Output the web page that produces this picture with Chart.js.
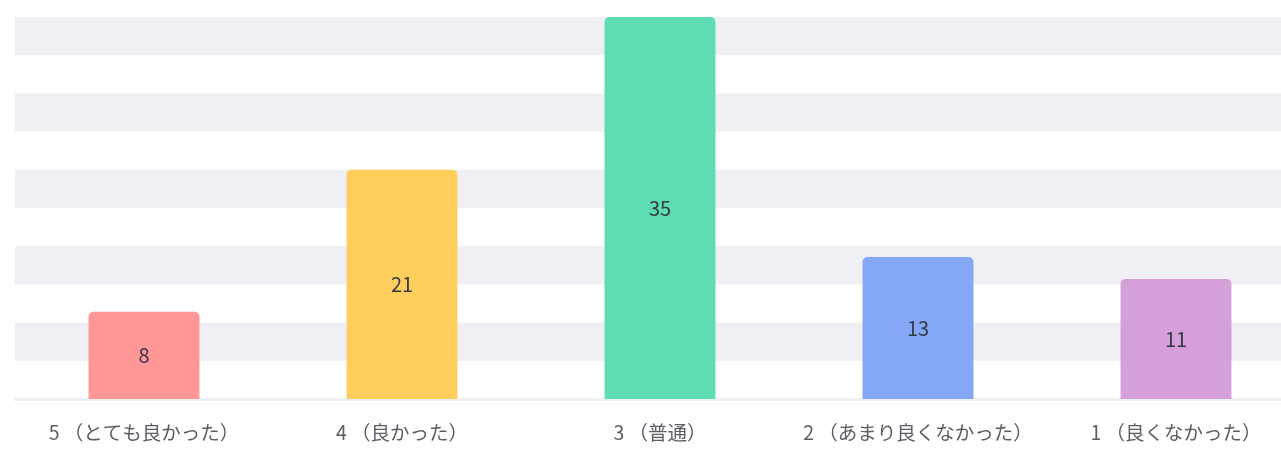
<!DOCTYPE html>
<html>
<head>
<meta charset="utf-8">
<script src="https://cdn.jsdelivr.net/npm/chart.js@4/dist/chart.umd.min.js"></script>
<style>
	html, body { margin: 0; padding: 0; background: #fff; overflow: hidden; }
	#wrap { width: 1320px; height: 453px; }
</style>
</head>
<body>
<div id="wrap"><canvas id="myChart" width="1320" height="453"></canvas></div>
<script>
var _labels = ['5 （とても良かった）', '4 （良かった）', '3 （普通）', '2 （あまり良くなかった）', '1 （良くなかった）'];
var _values = [8, 21, 35, 13, 11];
var _colors = ['#ff9797', '#ffce5c', '#5edcb4', '#84a8f7', '#d59fd9'];
var _yMax = 35;
var _yStep = 3.5;

// 背景の縞模様
var bandPlugin = {
	id: 'bands',
	beforeDatasetsDraw: function(chart) {
		var ctx = chart.ctx;
		var area = chart.chartArea;
		var y = chart.scales.y;
		ctx.save();
		ctx.fillStyle = '#eff0f4';
		var idx = 0;
		for (var v = _yMax; v > 0.001; v -= _yStep) {
			if (idx % 2 == 0) {
				var top = y.getPixelForValue(v);
				var bottom = y.getPixelForValue(v - _yStep);
				ctx.fillRect(area.left, top, area.right - area.left, bottom - top);
			}
			idx++;
		}
		ctx.restore();
	}
};

// 棒の中の数値
var valuePlugin = {
	id: 'values',
	afterDatasetsDraw: function(chart) {
		var ctx = chart.ctx;
		var meta = chart.getDatasetMeta(0);
		ctx.save();
		ctx.fillStyle = '#333a45';
		ctx.font = '20px "Noto Sans CJK JP", "Noto Sans", sans-serif';
		ctx.textAlign = 'center';
		ctx.textBaseline = 'middle';
		meta.data.forEach(function(bar, i) {
			var mid = (bar.y + bar.base) / 2;
			ctx.fillText(String(_values[i]), bar.x, mid);
		});
		ctx.restore();
	}
};

var _config = {
	type: 'bar',
	data: {
		labels: _labels,
		datasets: [{
			data: _values,
			backgroundColor: _colors,
			borderRadius: { topLeft: 5, topRight: 5, bottomLeft: 0, bottomRight: 0 },
			borderSkipped: 'start',
			barPercentage: 0.43,
			categoryPercentage: 1.0
		}]
	},
	options: {
		responsive: false,
		animation: false,
		layout: {
			padding: { left: 15, right: 15, top: 17, bottom: 0 }
		},
		plugins: {
			legend: { display: false },
			tooltip: { enabled: false }
		},
		scales: {
			x: {
				grid: { display: false },
				border: { display: true, color: '#eeeff3', width: 3 },
				afterFit: function(axis) {
					axis.height = 54;
				},
				ticks: {
					color: '#5a5e64',
					padding: 14,
					maxRotation: 0,
					font: { size: 19.5, family: '"Noto Sans CJK JP", "Noto Sans", sans-serif' }
				}
			},
			y: {
				display: false,
				min: 0,
				max: _yMax,
				ticks: { stepSize: _yStep }
			}
		}
	},
	plugins: [bandPlugin, valuePlugin]
};

var myChart = new Chart(document.getElementById('myChart'), _config);
</script>
</body>
</html>
